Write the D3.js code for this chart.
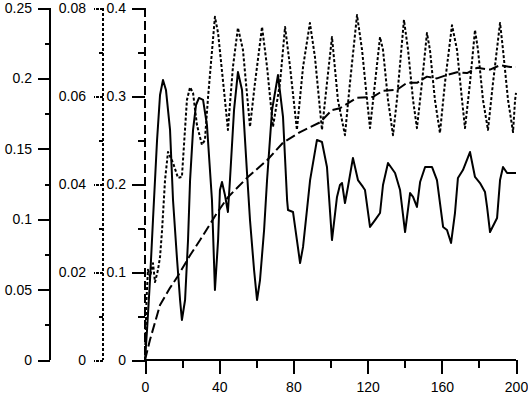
<!DOCTYPE html>
<html>
<head>
<meta charset="utf-8">
<script src="https://cdn.jsdelivr.net/npm/d3@7"></script>
<style>
  html, body { margin: 0; padding: 0; background: #fff; }
  svg { display: block; }
  text { font-family: "Liberation Sans", Arial, sans-serif; font-size: 14px; fill: #000; }
</style>
</head>
<body>
<svg id="chart" width="528" height="396"></svg>
<script>
// ---- data ----
const solidT = [0,1.1,2.7,4.3,6.5,8.1,9.7,11.3,13.5,15.1,17.3,18.9,19.9,21.6,23.2,24.3,25.9,27.5,29.1,31.3,33.4,36.1,37.7,39.4,40.4,41.5,43.1,44.7,45.8,48.0,50.1,52.3,55.0,56.6,58.8,60.4,62.0,64.2,65.8,68.5,71.7,74.4,76.6,77.1,79.8,81.9,83.6,85.2,87.3,89.0,92.7,95.4,98.1,100.8,103.5,105.1,106.2,107.8,109.4,112.1,114.8,117.5,118.6,121.3,124.0,126.7,128.3,131.0,134.8,137.5,140.2,142.9,144.5,146.6,148.3,151.0,154.7,157.4,160.7,162.8,165.0,167.1,168.7,171.4,175.2,177.9,180.6,183.3,184.4,186.0,189.8,191.4,193.0,195.2,200];
const solidV = [0,0.0213,0.0568,0.0994,0.1563,0.1882,0.1989,0.1918,0.1634,0.1136,0.0710,0.0426,0.0284,0.0426,0.0852,0.1278,0.1634,0.1811,0.1861,0.1847,0.1669,0.1136,0.0497,0.0852,0.1207,0.1264,0.1172,0.1051,0.1278,0.1776,0.2045,0.1918,0.1328,0.0994,0.0639,0.0426,0.0568,0.0923,0.1278,0.1776,0.2024,0.1726,0.1136,0.1065,0.1051,0.0852,0.0689,0.0803,0.1065,0.1278,0.1563,0.1548,0.1371,0.0852,0.1158,0.1243,0.1257,0.1115,0.1229,0.1435,0.1278,0.1229,0.1207,0.0945,0.0994,0.1044,0.1243,0.1399,0.1328,0.1207,0.0909,0.1186,0.1158,0.1087,0.1264,0.1371,0.1371,0.1278,0.0945,0.0923,0.0831,0.1044,0.1293,0.1349,0.1477,0.1300,0.1257,0.1193,0.1087,0.0909,0.1009,0.1278,0.1371,0.1328,0.1328];

const dottedT = [0,0.8,1.6,2.7,4.3,5.4,7.0,8.1,9.2,10.8,12.4,15.1,17.8,19.9,22.6,24.3,25.9,28.0,30.7,32.3,34.0,37.7,39.4,43.1,44.7,47.4,50.1,52.8,56.6,59.3,63.1,65.8,69.0,72.8,75.5,78.2,81.9,85.2,88.9,91.6,95.4,98.1,100.8,104.0,107.8,110.5,114.3,117.0,119.7,121.3,124.0,126.7,128.3,131.0,133.7,135.8,139.6,141.8,144.5,146.6,149.3,152.0,153.6,156.3,159.0,161.7,165.5,168.2,170.9,172.5,175.2,177.9,179.5,182.2,184.9,187.6,191.4,193.0,195.7,198.4,199.5,200];
const dottedV = [0,0.0136,0.0205,0.0189,0.0220,0.0177,0.0205,0.0234,0.0295,0.0409,0.0473,0.0448,0.0414,0.0416,0.0591,0.0620,0.0607,0.0534,0.0489,0.0500,0.0598,0.0780,0.0743,0.0591,0.0523,0.0666,0.0755,0.0705,0.0530,0.0630,0.0757,0.0666,0.0530,0.0630,0.0757,0.0666,0.0523,0.0666,0.0766,0.0689,0.0523,0.0630,0.0734,0.0591,0.0511,0.0630,0.0784,0.0705,0.0591,0.0527,0.0630,0.0734,0.0705,0.0591,0.0511,0.0591,0.0773,0.0705,0.0591,0.0527,0.0630,0.0743,0.0705,0.0591,0.0516,0.0630,0.0761,0.0705,0.0591,0.0527,0.0630,0.0750,0.0705,0.0591,0.0523,0.0630,0.0766,0.0705,0.0591,0.0518,0.0591,0.0607];

const dashedT = [0,2.7,8.1,13.5,17.3,24.3,29.6,38.8,44.7,55.0,65.8,74.4,83.6,94.3,100.8,105.0,114.3,122.9,128.3,135.8,141.2,146.6,152.0,157.4,162.8,168.2,173.6,179.0,186.0,191.4,196.8,200];
const dashedV = [0,0.023,0.0625,0.082,0.094,0.119,0.136,0.167,0.185,0.207,0.227,0.247,0.259,0.270,0.284,0.286,0.298,0.299,0.306,0.307,0.315,0.315,0.322,0.320,0.324,0.327,0.326,0.332,0.330,0.335,0.333,0.333];

const xTicks = [0,40,80,120,160,200];
const xTickLabels = ["0","40","80","120","160","200"];
const xMinor = [20,60,100,140,180];

const y1Ticks = [0,0.05,0.1,0.15,0.2,0.25];
const y1Labels = ["0","0.05","0.1","0.15","0.2","0.25"];
const y1Minor = [0.025,0.075,0.125,0.175,0.225];

const y2Ticks = [0,0.02,0.04,0.06,0.08];
const y2Labels = ["0","0.02","0.04","0.06","0.08"];
const y2Minor = [0.01,0.03,0.05,0.07];

const y3Ticks = [0,0.1,0.2,0.3,0.4];
const y3Labels = ["0","0.1","0.2","0.3","0.4"];
const y3Minor = [0.05,0.15,0.25,0.35];

// ---- scales ----
const svg = d3.select("#chart");
svg.append("rect").attr("width",528).attr("height",396).attr("fill","#fff");

const x = d3.scaleLinear().domain([0,200]).range([145,516]);
const y1 = d3.scaleLinear().domain([0,0.25]).range([360,8]);
const y2 = d3.scaleLinear().domain([0,0.08]).range([360,8]);
const y3 = d3.scaleLinear().domain([0,0.4]).range([360,8]);

function styleAxis(g, dash) {
  g.select(".domain").remove();
  g.selectAll(".tick line").attr("stroke","#000").attr("stroke-width",2)
    .attr("shape-rendering","crispEdges");
  if (dash) g.selectAll(".tick line").attr("stroke-dasharray", dash);
  g.selectAll("text").attr("font-family",null).attr("font-size",null).attr("fill","#000");
}

function yAxis(scale, xpos, ticks, labels, minor, major, minorLen, pad, dash) {
  const gMin = svg.append("g").attr("transform",`translate(${xpos},0)`)
    .call(d3.axisLeft(scale).tickValues(minor).tickSize(minorLen).tickFormat(""));
  styleAxis(gMin, null);
  const g = svg.append("g").attr("transform",`translate(${xpos},0)`)
    .call(d3.axisLeft(scale).tickValues(ticks).tickSize(major).tickPadding(pad)
      .tickFormat((d,i) => labels[i]));
  styleAxis(g, dash === "3,2" ? "3,1" : null);
  svg.append("line").attr("x1",xpos).attr("x2",xpos)
    .attr("y1",scale.range()[1]).attr("y2",scale.range()[0])
    .attr("stroke","#000").attr("stroke-width",2).attr("shape-rendering","crispEdges")
    .attr("stroke-dasharray",dash);
}

yAxis(y1, 50, y1Ticks, y1Labels, y1Minor, 12, 5, 6, null);
yAxis(y2, 103, y2Ticks, y2Labels, y2Minor, 9, 4, 8, "3,2");
yAxis(y3, 145, y3Ticks, y3Labels, y3Minor, 13, 7, 6, "9,4");

// x axis
const gxMin = svg.append("g").attr("transform","translate(0,360)")
  .call(d3.axisBottom(x).tickValues(xMinor).tickSize(8).tickFormat(""));
styleAxis(gxMin, null);
const gx = svg.append("g").attr("transform","translate(0,360)")
  .call(d3.axisBottom(x).tickValues(xTicks).tickSize(14).tickPadding(8)
    .tickFormat((d,i) => xTickLabels[i]));
styleAxis(gx, null);
svg.append("line").attr("x1",x(0)).attr("x2",x(200)).attr("y1",360).attr("y2",360)
  .attr("stroke","#000").attr("stroke-width",2).attr("shape-rendering","crispEdges");

// ---- series ----
function drawSeries(ts, vs, scale, dash) {
  const pts = ts.map((t,i) => [t, vs[i]]);
  const line = d3.line().x(d => x(d[0])).y(d => scale(d[1]));
  svg.append("path").datum(pts).attr("d", line)
    .attr("fill","none").attr("stroke","#000").attr("stroke-width",2)
    .attr("stroke-linejoin","round")
    .attr("stroke-dasharray", dash);
}
drawSeries(dashedT, dashedV, y3, "10,4");
drawSeries(dottedT, dottedV, y2, "3,2");
drawSeries(solidT, solidV, y1, null);
</script>
</body>
</html>
